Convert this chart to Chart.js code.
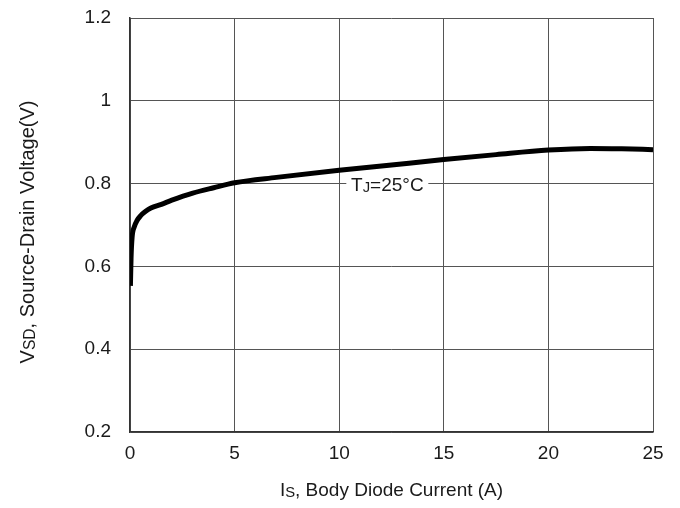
<!DOCTYPE html>
<html>
<head>
<meta charset="utf-8">
<script src="https://cdn.jsdelivr.net/npm/chart.js@4"></script>
<style>
  html, body { margin: 0; padding: 0; background: #fff; }
  #wrap { width: 680px; height: 508px; }
</style>
</head>
<body>
<div id="wrap"><canvas id="vsdChart" width="680" height="508"></canvas></div>
<script>
// Values
const currentA = [0.02, 0.05, 0.1, 0.2, 0.35, 0.5, 0.75, 1, 1.5, 2, 3, 4, 5, 7, 10, 12.5, 15, 17.5, 20, 22, 23.5, 25];
const voltageV = [0.553, 0.62, 0.67, 0.695, 0.712, 0.722, 0.733, 0.741, 0.75, 0.76, 0.777, 0.79, 0.802, 0.815, 0.832, 0.845, 0.858, 0.87, 0.881, 0.885, 0.884, 0.882];

const xTicks = [0, 5, 10, 15, 20, 25];
const yTicks = [0.2, 0.4, 0.6, 0.8, 1.0, 1.2];

// where the temperature note sits, in data units
const noteAt = [12.3, 0.8];

const fontFamily = "'Liberation Sans', Arial, sans-serif";
const textColor = "#1a1a1a";

// draw text made of pieces, some of them smaller (subscripts), on one baseline
function drawPieces(ctx, pieces, size) {
  let total = 0;
  pieces.forEach(p => {
    ctx.font = (p.sub ? size * 0.78 : size) + "px " + fontFamily;
    p.w = ctx.measureText(p.t).width;
    total += p.w;
  });
  let x = -total / 2;
  const base = size * 0.36;
  pieces.forEach(p => {
    ctx.font = (p.sub ? size * 0.78 : size) + "px " + fontFamily;
    ctx.fillText(p.t, x, base + (p.sub ? 1 : 0));
    x += p.w;
  });
  return total;
}

const titlesPlugin = {
  id: "titles",
  afterDraw(chart) {
    const ctx = chart.ctx;
    const area = chart.chartArea;
    ctx.save();
    ctx.fillStyle = textColor;
    ctx.textAlign = "left";
    ctx.textBaseline = "alphabetic";

    // x axis title
    ctx.save();
    ctx.translate((area.left + area.right) / 2, 489);
    drawPieces(ctx, [{ t: "I" }, { t: "S", sub: true }, { t: ", Body Diode Current (A)" }], 19);
    ctx.restore();

    // y axis title
    ctx.save();
    ctx.translate(27, 232);
    ctx.rotate(-Math.PI / 2);
    drawPieces(ctx, [{ t: "V" }, { t: "SD", sub: true }, { t: ", Source-Drain Voltage(V)" }], 20);
    ctx.restore();

    // temperature note on a white box
    const nx = chart.scales.x.getPixelForValue(noteAt[0]);
    const ny = chart.scales.y.getPixelForValue(noteAt[1]);
    ctx.save();
    ctx.translate(nx, ny + 1);
    ctx.fillStyle = "#fff";
    ctx.fillRect(-41, -10, 82, 20);
    ctx.fillStyle = textColor;
    drawPieces(ctx, [{ t: "T" }, { t: "J", sub: true }, { t: "=25°C" }], 19);
    ctx.restore();

    ctx.restore();
  }
};

new Chart(document.getElementById("vsdChart"), {
  type: "line",
  data: {
    datasets: [{
      data: currentA.map((x, i) => ({ x: x, y: voltageV[i] })),
      borderColor: "#000",
      borderWidth: 5,
      pointRadius: 0,
      cubicInterpolationMode: "monotone",
      fill: false
    }]
  },
  options: {
    responsive: false,
    animation: false,
    layout: { padding: { top: 18, right: 27, left: 0, bottom: 0 } },
    plugins: { legend: { display: false }, tooltip: { enabled: false } },
    scales: {
      x: {
        type: "linear",
        min: 0,
        max: 25,
        afterBuildTicks: s => { s.ticks = xTicks.map(v => ({ value: v })); },
        afterFit: s => { s.height = 76; s.paddingLeft = 0; s.paddingRight = 0; },
        grid: { color: "#555", lineWidth: 1, drawTicks: false },
        border: { color: "#333", width: 1.5 },
        ticks: { padding: 10, color: textColor, font: { family: fontFamily, size: 19 }, maxRotation: 0 }
      },
      y: {
        type: "linear",
        min: 0.2,
        max: 1.2,
        afterBuildTicks: s => { s.ticks = yTicks.map(v => ({ value: v })); },
        afterFit: s => { s.width = 130; s.paddingTop = 0; s.paddingBottom = 0; },
        grid: { color: "#555", lineWidth: 1, drawTicks: false },
        border: { color: "#333", width: 1.5 },
        ticks: {
          padding: 19,
          color: textColor,
          font: { family: fontFamily, size: 19 },
          callback: v => (Math.round(v * 10) / 10).toString()
        }
      }
    }
  },
  plugins: [titlesPlugin]
});
</script>
</body>
</html>
